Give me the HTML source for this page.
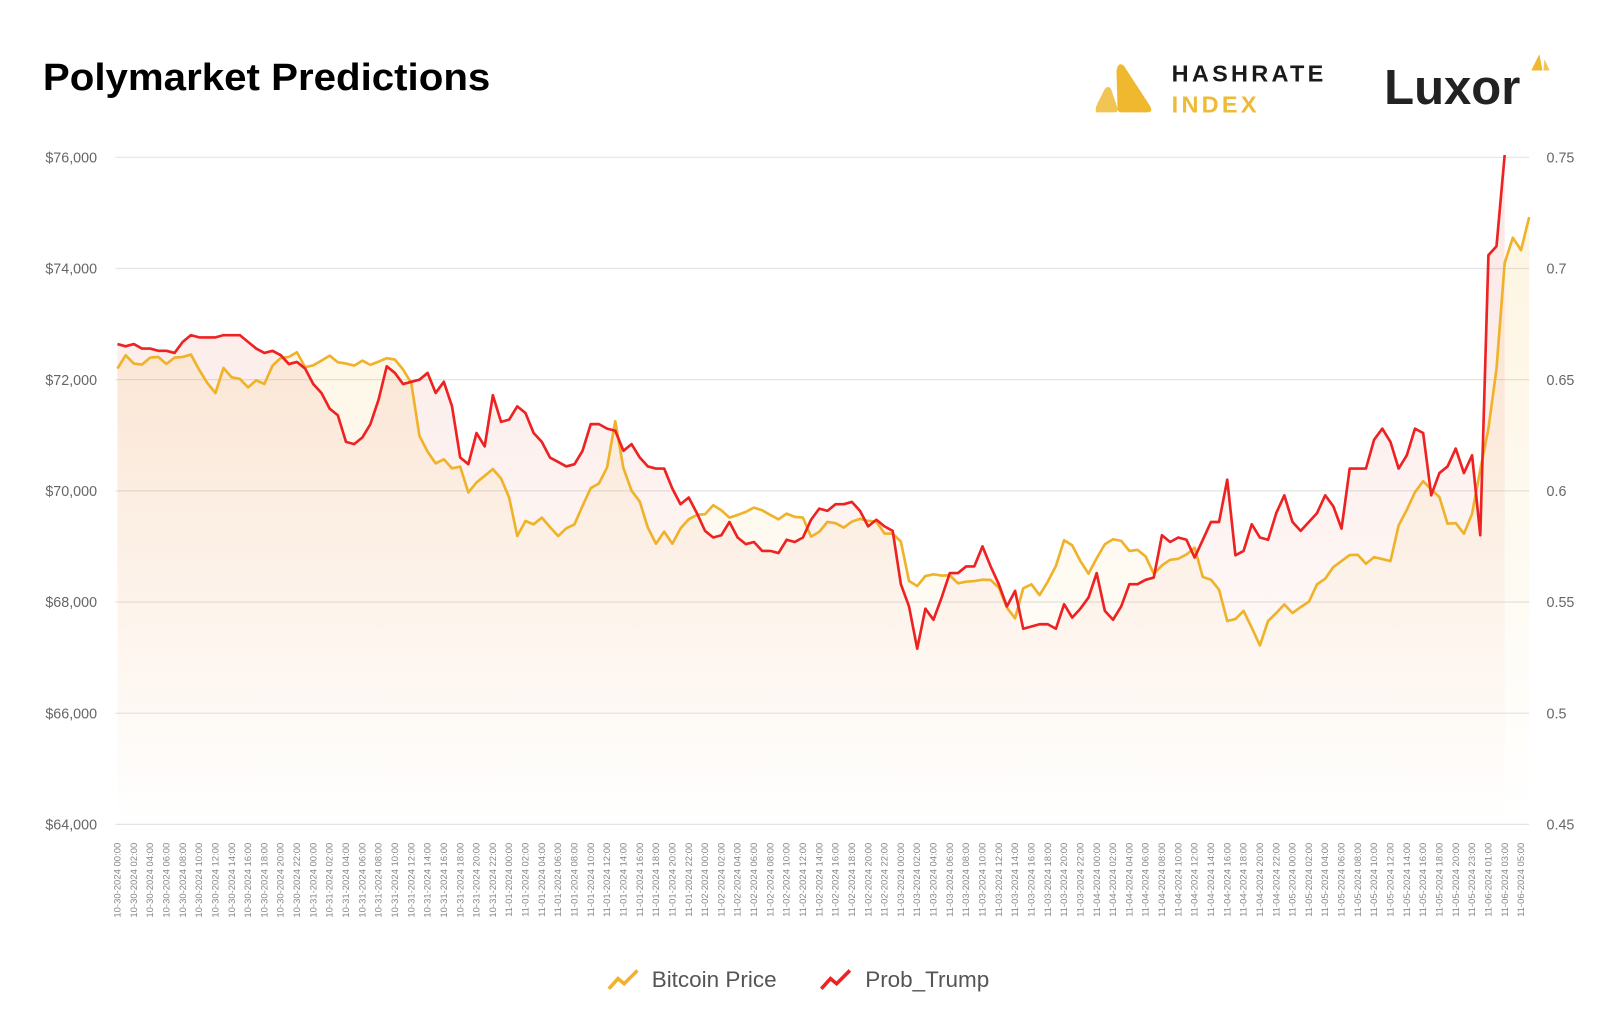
<!DOCTYPE html>
<html><head><meta charset="utf-8">
<style>
html,body{margin:0;padding:0;background:#fff;}
svg{display:block;font-family:"Liberation Sans",sans-serif;}
</style></head>
<body>
<svg id="chart" width="1600" height="1027" viewBox="0 0 1600 1027">
<defs>
<linearGradient id="gOrange" gradientUnits="userSpaceOnUse" x1="0" y1="154" x2="0" y2="807">
<stop offset="0" stop-color="rgb(242,185,50)" stop-opacity="0.16"/>
<stop offset="1" stop-color="rgb(242,185,50)" stop-opacity="0.0"/>
</linearGradient>
<linearGradient id="gRed" gradientUnits="userSpaceOnUse" x1="0" y1="154" x2="0" y2="807">
<stop offset="0" stop-color="rgb(225,80,50)" stop-opacity="0.14"/>
<stop offset="1" stop-color="rgb(225,80,50)" stop-opacity="0.0"/>
</linearGradient>
</defs>
<g transform="scale(1.0215)">
<text x="42" y="88" font-size="37" font-weight="bold" fill="#000" textLength="438" lengthAdjust="spacingAndGlyphs">Polymarket Predictions</text>
<g>
<path d="M1073,110 Q1072,106 1074,102 L1081,88 Q1085,82 1088,88 L1094,106 Q1095,110 1091,110 Z" fill="#f1c453"/>
<path d="M1098,110 Q1094,110 1094,106 L1093,70 Q1094,60 1100,64 L1126,104 Q1129,110 1123,110 Z" fill="#efb82f"/>
<text x="1147" y="80" font-size="23" font-weight="bold" fill="#1a1a1a" letter-spacing="3.2">HASHRATE</text>
<text x="1147" y="110" font-size="23" font-weight="bold" fill="#efbb35" letter-spacing="3.2">INDEX</text>
</g>
<g>
<text x="1355" y="102" font-size="48" font-weight="bold" fill="#222">Luxor</text>
<path d="M1499,69 L1507,53 L1510,69 Z" fill="#efb82f"/>
<path d="M1511,69 L1512,58 L1517,69 Z" fill="#f1c453"/>
</g>
<g id="grid"></g>
<g id="areas"></g>
<g id="lines"></g>
<g id="yLeft"></g>
<g id="yRight"></g>
<g id="xAxis"></g>
<g>
<g>
<polyline points="596,968 605,958 611,963 624,950" fill="none" stroke="#efb22a" stroke-width="3.5"/>
<text x="638" y="966" font-size="22" fill="#555">Bitcoin Price</text>
</g>
<g>
<polyline points="804,968 813,958 819,963 832,950" fill="none" stroke="#ee2222" stroke-width="3.5"/>
<text x="847" y="966" font-size="22" fill="#555">Prob_Trump</text>
</g>
</g>
</g>
</svg>
<script>
const btcPrice = [72199,72439,72289,72271,72397,72409,72283,72397,72409,72452,72181,71940,71759,72211,72042,72012,71862,71988,71922,72253,72391,72409,72494,72223,72259,72343,72433,72313,72289,72253,72343,72265,72325,72385,72361,72181,71940,70989,70706,70495,70567,70405,70435,
69970,70151,70271,70391,70223,69880,69187,69458,69398,69518,69350,69187,69326,69398,69729,70048,70132,70421,71252,70409,70000,69807,69338,69049,69266,69049,69326,69488,69567,69579,69741,69651,69518,69567,69621,69699,69651,69567,69488,69591,69531,69518,
69177,69261,69441,69417,69339,69447,69496,69459,69447,69231,69231,69087,68378,68288,68468,68498,68474,68480,68336,68366,68378,68402,68396,68258,67898,67706,68246,68318,68126,68366,68649,69111,69021,68739,68510,68787,69039,69129,69099,68919,68937,
68820,68509,68659,68760,68778,68856,68976,68449,68401,68221,67658,67694,67838,67538,67220,67658,67802,67957,67802,67909,68005,68317,68419,68629,68736,68844,68850,68688,68808,68772,68736,69378,69659,69977,70175,70025,69887,69408,69420,69228,69588,
70376,71121,72196,74098,74553,74329,74925];
const probTrump = [0.666,0.665,0.666,0.664,0.664,0.663,0.663,0.662,0.667,0.670,0.669,0.669,0.669,0.670,0.670,0.670,0.667,0.664,0.662,0.663,0.661,0.657,0.658,0.655,0.648,0.644,0.637,0.634,0.622,0.621,0.624,0.630,0.641,0.656,0.653,0.648,0.649,0.650,0.653,0.644,0.649,0.638,0.615,
0.612,0.626,0.620,0.643,0.631,0.632,0.638,0.635,0.626,0.622,0.615,0.613,0.611,0.612,0.618,0.630,0.630,0.628,0.627,0.618,0.621,0.615,0.611,0.610,0.610,0.601,0.594,0.597,0.590,0.582,0.579,0.580,0.586,0.579,0.576,0.577,0.573,0.573,0.572,0.578,0.577,0.579,
0.587,0.592,0.591,0.594,0.594,0.595,0.591,0.584,0.587,0.584,0.582,0.558,0.548,0.529,0.547,0.542,0.552,0.563,0.563,0.566,0.566,0.575,0.566,0.558,0.548,0.555,0.538,0.539,0.540,0.540,0.538,0.549,0.543,0.547,0.552,0.563,0.546,0.542,0.548,0.558,0.558,
0.560,0.561,0.580,0.577,0.579,0.578,0.570,0.578,0.586,0.586,0.605,0.571,0.573,0.585,0.579,0.578,0.590,0.598,0.586,0.582,0.586,0.590,0.598,0.593,0.583,0.610,0.610,0.610,0.623,0.628,0.622,0.610,0.616,0.628,0.626,0.598,0.608,0.611,0.619,0.608,0.616,0.580,0.706,0.710,0.751];
const leftTicks = [64000,66000,68000,70000,72000,74000,76000];
const leftTickLabels = ["$64,000","$66,000","$68,000","$70,000","$72,000","$74,000","$76,000"];
const rightTicks = [0.45,0.5,0.55,0.6,0.65,0.7,0.75];
const rightTickLabels = ["0.45","0.5","0.55","0.6","0.65","0.7","0.75"];
const skippedHour = 166; // 11-05-2024 22:00 absent in source data

const NS = "http://www.w3.org/2000/svg";
const X0 = 115, X1 = 1497, YT = 154, YB = 807;
const N = btcPrice.length;
const xScale = i => X0 + i * (X1 - X0) / (N - 1);
const yLeft = v => YB - (v - 64000) / 12000 * (YB - YT);
const yRight = v => YB - (v - 0.45) / 0.30 * (YB - YT);

function mk(tag, attrs, parent) {
  const e = document.createElementNS(NS, tag);
  for (const k in attrs) e.setAttribute(k, attrs[k]);
  parent.appendChild(e);
  return e;
}

const categories = [];
(function(){
  const pad = n => String(n).padStart(2, "0");
  let h = 0;
  while (categories.length < N) {
    if (h !== skippedHour) {
      const d = new Date(Date.UTC(2024, 9, 30, 0) + h * 3600000);
      categories.push(pad(d.getUTCMonth()+1) + "-" + pad(d.getUTCDate()) + "-" + d.getUTCFullYear() + " " + pad(d.getUTCHours()) + ":00");
    }
    h++;
  }
})();

const grid = document.getElementById("grid");
leftTicks.forEach((t, i) => {
  const ln = mk("line", {x1: X0 - 2, x2: X1, y1: yLeft(t), y2: yLeft(t), stroke: "#e4e4e4", "stroke-width": 1.2}, grid);
  
  
});

const yl = document.getElementById("yLeft");
leftTicks.forEach((t, i) => {
  const tx = mk("text", {x: 95, y: yLeft(t) + 5, "font-size": 14, fill: "#666", "text-anchor": "end"}, yl);
  tx.textContent = leftTickLabels[i];
  
  
});
const yr = document.getElementById("yRight");
rightTicks.forEach((t, i) => {
  const tx = mk("text", {x: 1514, y: yRight(t) + 5, "font-size": 14, fill: "#666"}, yr);
  tx.textContent = rightTickLabels[i];
  
  
});

const xa = document.getElementById("xAxis");
for (let i = 0; i < N; i += 2) {
  const x = xScale(i);
  const tx = mk("text", {x: 0, y: 0, "font-size": 9.3, fill: "#888", "text-anchor": "end", transform: "translate(" + (x + 3) + ",825) rotate(-90)"}, xa);
  tx.textContent = categories[i];
  
  
}

function pts(arr, sc) {
  const p = [];
  arr.forEach((v, i) => { if (v != null) p.push([xScale(i), sc(v)]); });
  return p;
}
const pO = pts(btcPrice, yLeft), pR = pts(probTrump, yRight);
const areas = document.getElementById("areas"), lines = document.getElementById("lines");
function area(p, fill, name) {
  const d = "M" + p[0][0] + "," + YB + " " + p.map(q => "L" + q[0].toFixed(1) + "," + q[1].toFixed(1)).join(" ") + " L" + p[p.length-1][0] + "," + YB + "Z";
  const a = mk("path", {d: d, fill: fill}, areas);
  
  
}
area(pO, "url(#gOrange)", "bitcoin-price-area");
area(pR, "url(#gRed)", "prob-trump-area");
function line(p, color, name) {
  const l = mk("polyline", {points: p.map(q => q[0].toFixed(1) + "," + q[1].toFixed(1)).join(" "), fill: "none", stroke: color, "stroke-width": 2.6, "stroke-linejoin": "round"}, lines);
  
  
}
line(pO, "#efb22a", "bitcoin-price-line");
line(pR, "#ee2222", "prob-trump-line");
</script>
</body></html>
